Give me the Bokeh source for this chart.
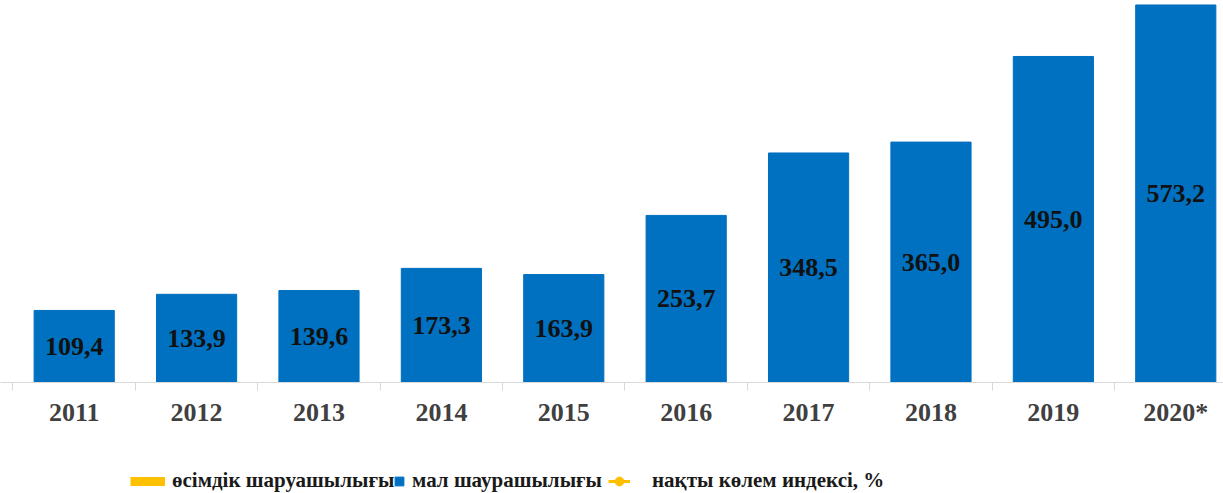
from bokeh.plotting import figure
from bokeh.layouts import column
from bokeh.models import Range1d, FixedTicker, Legend, LegendItem, ColumnDataSource
from bokeh.core.properties import value
from bokeh.embed import file_html
from bokeh.resources import INLINE

years = ["2011", "2012", "2013", "2014", "2015", "2016", "2017", "2018", "2019", "2020*"]
livestock = [109.4, 133.9, 139.6, 173.3, 163.9, 253.7, 348.5, 365.0, 495.0, 573.2]
labels = ["109,4", "133,9", "139,6", "173,3", "163,9", "253,7", "348,5", "365,0", "495,0", "573,2"]
legend_names = ["өсімдік шаруашылығы", "мал шаурашылығы", "нақты көлем индексі, %"]

xs = list(range(len(years)))
src = ColumnDataSource(dict(x=xs, y=livestock, ymid=[v / 2 for v in livestock], lbl=labels))

p = figure(width=1223, height=432, output_backend="svg", toolbar_location=None,
           x_range=Range1d(-0.602, 9.390), y_range=Range1d(0, 580),
           min_border_left=0, min_border_right=0, min_border_top=0, min_border_bottom=50)
p.outline_line_color = None
p.grid.visible = False
p.yaxis.visible = False

p.vbar(x="x", top="y", width=0.655, source=src, fill_color="#0070C0", line_color="#0070C0")
p.text(x="x", y="ymid", text="lbl", source=src, text_align="center", text_baseline="middle",
       text_font=value("Liberation Serif"), text_font_style="bold", text_font_size="26px",
       text_color="#111111")

ax = p.xaxis[0]
ax.ticker = FixedTicker(ticks=xs, minor_ticks=[i - 0.5 for i in range(len(years) + 1)])
ax.major_label_overrides = {i: y for i, y in zip(xs, years)}
ax.axis_line_color = "#d9d9d9"
ax.major_tick_line_color = None
ax.major_tick_out = 0
ax.major_tick_in = 0
ax.minor_tick_line_color = "#d9d9d9"
ax.minor_tick_out = 8
ax.minor_tick_in = 0
ax.major_label_text_font = "Liberation Serif"
ax.major_label_text_font_style = "bold"
ax.major_label_text_font_size = "26px"
ax.major_label_text_color = "#404040"
ax.major_label_standoff = 7

# legend strip (series with no visible data in this chart; drawn off-range)
q = figure(width=1223, height=61, output_backend="svg", toolbar_location=None,
           x_range=Range1d(0, 1), y_range=Range1d(0, 1),
           min_border_left=0, min_border_right=0, min_border_top=0, min_border_bottom=0)
q.outline_line_color = None
q.grid.visible = False
q.axis.visible = False

off = dict(x=[-10, -9], y=[-10, -10])
r_plant = q.line(x="x", y="y", source=ColumnDataSource(off), line_color="#FFC000", line_width=9)
r_live = q.scatter(x="x", y="y", source=ColumnDataSource(off), marker="square",
                   fill_color="#0070C0", line_color="#0070C0")
r_idx_l = q.line(x="x", y="y", source=ColumnDataSource(off), line_color="#FFC000", line_width=3)
r_idx_c = q.scatter(x="x", y="y", source=ColumnDataSource(off), marker="circle",
                    fill_color="#FFC000", line_color="#FFC000")


def make_legend(label, renderers, x, gw, standoff):
    lg = Legend(items=[LegendItem(label=label, renderers=renderers)], location=(x, 0))
    lg.label_text_font = "Liberation Serif"
    lg.label_text_font_style = "bold"
    lg.label_text_font_size = "21px"
    lg.label_text_color = "#1a1a1a"
    lg.glyph_width = gw
    lg.glyph_height = 22
    lg.label_height = 22
    lg.label_standoff = standoff
    lg.padding = 0
    lg.margin = 0
    lg.border_line_color = None
    lg.background_fill_alpha = 0
    q.add_layout(lg)


make_legend(legend_names[0], [r_plant], 130, 35, 7)
make_legend(legend_names[1], [r_live], 388, 22, 2)
make_legend(legend_names[2], [r_idx_l, r_idx_c], 608, 22, 22)

open("out.html", "w").write(file_html(column(p, q, spacing=0), INLINE))
